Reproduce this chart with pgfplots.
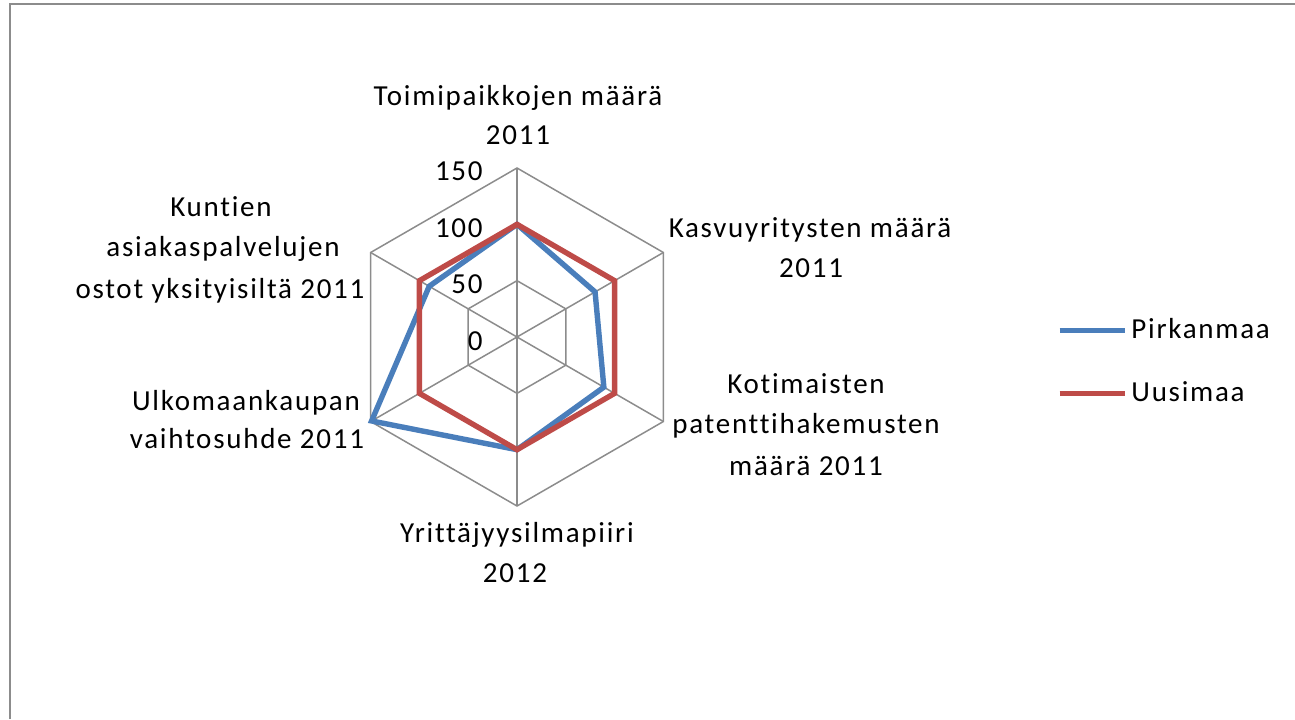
\documentclass[border=0pt]{standalone}
\usepackage{fontspec}
\setmainfont[LetterSpace=6, Ligatures={NoCommon}]{Carlito}
\usepackage{pgfplots}
\usepgfplotslibrary{polar}
\pgfplotsset{compat=1.18}
\definecolor{pblue}{HTML}{4A7EBB}
\definecolor{ured}{HTML}{BE4B48}
\definecolor{gridg}{HTML}{8C8C8C}
\newcommand\lbl[3]{\node[anchor=base, inner sep=0pt, font=\fontsize{14.5bp}{16bp}\selectfont] at (#1,#2) {#3};}
\newcommand\tlbl[2]{\node[anchor=east, inner sep=0pt, font=\fontsize{14.5bp}{16bp}\selectfont] at (483,#1) {#2};}
\begin{document}
\begin{tikzpicture}
\begin{polaraxis}[
  at={(0,0)}, anchor=center,
  scale only axis, width=169bp, height=169bp,
  xmin=0, xmax=360, ymin=0, ymax=150,
  hide axis, clip=false,
  legend style={draw=none, fill=none, inner sep=0pt, outer sep=0pt,
    at={(2.0976,0.4269)}, anchor=west, row sep=16bp, column sep=0pt,
    cells={anchor=west}, font=\fontsize{14.5bp}{16bp}\selectfont},
  legend image code/.code={\draw[#1] (0bp,0bp) -- (32.5bp,0bp);},
]
% grid hexagons
\addplot[gridg, line width=0.75bp, forget plot] coordinates {(90,50)(30,50)(330,50)(270,50)(210,50)(150,50)(90,50)(30,50)};
\addplot[gridg, line width=0.75bp, forget plot] coordinates {(90,100)(30,100)(330,100)(270,100)(210,100)(150,100)(90,100)(30,100)};
\addplot[gridg, line width=0.75bp, forget plot] coordinates {(90,150)(30,150)(330,150)(270,150)(210,150)(150,150)(90,150)(30,150)};
% spokes
\addplot[gridg, line width=0.75bp, forget plot] coordinates {(90,0)(90,150)};
\addplot[gridg, line width=0.75bp, forget plot] coordinates {(30,0)(30,150)};
\addplot[gridg, line width=0.75bp, forget plot] coordinates {(330,0)(330,150)};
\addplot[gridg, line width=0.75bp, forget plot] coordinates {(270,0)(270,150)};
\addplot[gridg, line width=0.75bp, forget plot] coordinates {(210,0)(210,150)};
\addplot[gridg, line width=0.75bp, forget plot] coordinates {(150,0)(150,150)};
% data
\addplot[pblue, line width=2.7bp, line join=miter] coordinates {(90,100)(30,80)(330,89)(270,100)(210,149)(150,90)(90,100)(30,80)};
\addlegendentry{Pirkanmaa}
\addplot[ured, line width=2.7bp, line join=miter] coordinates {(90,100)(30,100)(330,100)(270,100)(210,100)(150,100)(90,100)(30,100)};
\addlegendentry{Uusimaa}
\end{polaraxis}
\begin{scope}[shift={(-258.5bp,168.5bp)}, x=0.5bp, y=-0.5bp]
\useasboundingbox (0,0) rectangle (1295,719);
\draw[gridg, line width=1.3bp] (10,719) -- (10,4) -- (1295,4);
\tlbl{171}{150}
\tlbl{228}{100}
\tlbl{284}{50}
\tlbl{341}{0}
\lbl{518}{106}{Toimipaikkojen määrä}
\lbl{518}{145}{2011}
\lbl{810}{238}{Kasvuyritysten määrä}
\lbl{811}{277}{2011}
\lbl{806}{393}{Kotimaisten}
\lbl{806}{433}{patenttihakemusten}
\lbl{806}{475}{määrä 2011}
\lbl{517}{542}{Yrittäjyysilmapiiri}
\lbl{515}{582}{2012}
\lbl{221}{217}{Kuntien}
\lbl{223}{257}{asiakaspalvelujen}
\lbl{220}{298}{ostot yksityisiltä 2011}
\lbl{246}{410}{Ulkomaankaupan}
\lbl{247}{448}{vaihtosuhde 2011}
\end{scope}
\end{tikzpicture}
\end{document}
